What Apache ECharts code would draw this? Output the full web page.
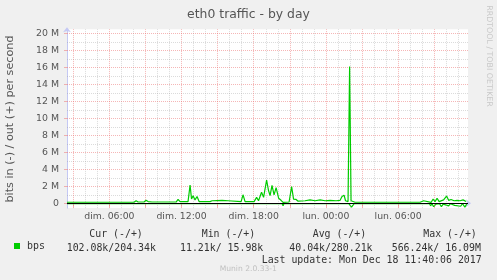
<!DOCTYPE html>
<html><head><meta charset="utf-8">
<script src="https://cdn.jsdelivr.net/npm/echarts@6/dist/echarts.min.js"></script>
<style>html,body{margin:0;padding:0;background:#f0f0f0}#c{width:497px;height:280px}</style>
</head><body><div id="c"></div>
<script>
// time axis: hours since Sunday (dim.) 00:00 ; values in Mbit/s
const outHours = [2.48, 5.23, 8.05, 8.22, 8.39, 8.88, 9.05, 9.22, 9.38, 9.55, 9.97, 10.13, 10.30, 11.55, 11.71, 11.88, 12.54, 12.71, 12.83, 12.96, 13.12, 13.29, 13.46, 14.37, 14.54, 15.37, 15.87, 16.03, 16.95, 17.11, 17.28, 18.03, 18.24, 18.40, 18.65, 18.82, 19.07, 19.23, 19.36, 19.52, 19.69, 19.86, 20.07, 20.27, 20.44, 20.94, 21.15, 21.31, 21.52, 21.69, 21.85, 22.27, 22.68, 23.10, 23.52, 23.93, 24.35, 24.85, 25.18, 25.34, 25.51, 25.63, 25.84, 25.97, 26.09, 26.22, 26.42, 31.83, 31.91, 32.12, 32.24, 32.74, 32.91, 33.07, 33.24, 33.41, 33.57, 33.78, 34.03, 34.20, 34.40, 34.65, 34.90, 35.15, 35.40, 35.65];
const outMbps = [0.12, 0.12, 0.12, 0.3, 0.15, 0.15, 0.35, 0.2, 0.35, 0.15, 0.15, 0.35, 0.15, 0.15, 0.45, 0.2, 0.2, 2.15, 0.5, 0.9, 0.4, 0.8, 0.2, 0.2, 0.3, 0.35, 0.3, 0.15, 0.2, 1.0, 0.2, 0.2, 0.7, 0.3, 1.3, 0.7, 2.74, 1.5, 0.9, 2.1, 1.0, 1.85, 0.6, 0.35, 0.1, 0.15, 1.95, 0.5, 0.45, 0.25, 0.45, 0.3, 0.4, 0.3, 0.4, 0.3, 0.35, 0.3, 0.35, 0.8, 0.95, 0.3, 0.2, 16.09, 0.3, 0.1, 0.12, 0.12, 0.15, 0.3, 0.1, 0.1, 0.5, 0.2, 0.6, 0.2, 0.35, 0.4, 0.85, 0.35, 0.45, 0.3, 0.35, 0.3, 0.4, 0.2];
const inHours = [2.48, 11.0, 11.08, 11.16, 12.45, 12.54, 12.62, 13.3, 13.38, 13.46, 14.05, 14.13, 14.21, 16.4, 16.48, 16.56, 17.2, 17.28, 17.36, 18.7, 18.78, 18.86, 19.85, 19.93, 20.01, 20.35, 20.44, 20.52, 21.3, 21.4, 21.5, 22.9, 23.0, 23.1, 25.7, 25.8, 25.9, 26.05, 26.13, 26.25, 26.35, 28.0, 28.1, 28.2, 32.6, 32.7, 32.82, 32.95, 33.03, 33.15, 33.3, 33.45, 33.6, 33.75, 34.2, 34.35, 34.7, 34.85, 35.2, 35.35, 35.55, 35.7];
const inMbps = [-0.03, -0.03, -0.15, -0.03, -0.03, -0.18, -0.03, -0.03, -0.2, -0.03, -0.03, -0.2, -0.03, -0.03, -0.15, -0.03, -0.03, -0.2, -0.03, -0.03, -0.25, -0.03, -0.03, -0.15, -0.03, -0.03, -0.3, -0.03, -0.03, -0.2, -0.03, -0.03, -0.12, -0.03, -0.03, -0.2, -0.03, -0.03, -0.45, -0.3, -0.03, -0.03, -0.1, -0.03, -0.03, -0.3, -0.05, -0.4, -0.566, -0.1, -0.3, -0.05, -0.4, -0.1, -0.3, -0.05, -0.25, -0.05, -0.35, -0.05, -0.45, -0.1];
const xLabelHours = [6, 12, 18, 24, 30];
const xLabels = ['dim. 06:00', 'dim. 12:00', 'dim. 18:00', 'lun. 00:00', 'lun. 06:00'];
const xMajorHours = [3, 6, 9, 12, 15, 18, 21, 24, 27, 30, 33];
const xMinorHours = [4, 5, 7, 8, 10, 11, 13, 14, 16, 17, 19, 20, 22, 23, 25, 26, 28, 29, 31, 32, 34, 35];
const yLabelValues = [0, 2, 4, 6, 8, 10, 12, 14, 16, 18, 20];
const yLabels = ['0', '2 M', '4 M', '6 M', '8 M', '10 M', '12 M', '14 M', '16 M', '18 M', '20 M'];
const yMajorValues = [2, 4, 6, 8, 10, 12, 14, 16, 18, 20];
const yMinorValues = [1, 3, 5, 7, 9, 11, 13, 15, 17, 19];
const legendHeaders = ['Cur (-/+)', 'Min (-/+)', 'Avg (-/+)', 'Max (-/+)'];
const legendValues = ['102.08k/204.34k', '11.21k/ 15.98k', '40.04k/280.21k', '566.24k/ 16.09M'];
const lastUpdate = 'Last update: Mon Dec 18 11:40:06 2017';

const SANS = 'DejaVu Sans';
const MONO = 'DejaVu Sans Mono';
const GREEN = '#00cc00';
const RED = 'rgba(235,110,110,0.5)';
const GREY = 'rgba(160,160,160,0.38)';
const AXIS = '#c4c8f4';

const chart = echarts.init(document.getElementById('c'), null, {renderer: 'canvas'});
const headerX = [89.3, 201.7, 312.7, 423.3];
const valueX = [66.7, 180, 289.3, 391.7];
const mid = {align: 'left', verticalAlign: 'middle', textAlign: 'left', textVerticalAlign: 'middle'};
const graphics = [
  {type: 'text', x: 248.5, y: 14.3, style: {text: 'eth0 traffic - by day', fontFamily: SANS, fontSize: 12.4, fill: '#555', align: 'center', verticalAlign: 'middle', textAlign: 'center', textVerticalAlign: 'middle'}},
  {type: 'text', x: 10.5, y: 119, rotation: Math.PI / 2, style: {text: 'bits in (-) / out (+) per second', fontFamily: SANS, fontSize: 11.2, fill: '#555', align: 'center', verticalAlign: 'middle', textAlign: 'center', textVerticalAlign: 'middle'}},
  {type: 'text', x: 489, y: 56, rotation: -Math.PI / 2, style: {text: 'RRDTOOL / TOBI OETIKER', fontFamily: SANS, fontSize: 7.9, fill: '#c8c8c8', align: 'center', verticalAlign: 'middle', textAlign: 'center', textVerticalAlign: 'middle'}},
  {type: 'text', x: 248.3, y: 269.5, style: {text: 'Munin 2.0.33-1', fontFamily: SANS, fontSize: 7.6, fill: '#c0c0c0', align: 'center', verticalAlign: 'middle', textAlign: 'center', textVerticalAlign: 'middle'}},
  {type: 'text', x: 261.7, y: 260, style: Object.assign({text: lastUpdate, fontFamily: MONO, fontSize: 9.9, fill: '#333'}, mid)}
];
legendHeaders.forEach((t, i) => graphics.push({type: 'text', x: headerX[i], y: 234.8, style: Object.assign({text: t, fontFamily: MONO, fontSize: 9.9, fill: '#333'}, mid)}));
legendValues.forEach((t, i) => graphics.push({type: 'text', x: valueX[i], y: 248.2, style: Object.assign({text: t, fontFamily: MONO, fontSize: 9.9, fill: '#333'}, mid)}));

const gridLine = (color) => ({color: color, width: 1, type: [1, 1]});
const option = {
  animation: false,
  backgroundColor: '#f0f0f0',
  grid: {left: 67, top: 29.3, width: 401, height: 178.8, show: true, backgroundColor: '#fff', borderWidth: 0},
  legend: {data: ['bps'], left: 14, top: 241, padding: 0, itemWidth: 6, itemHeight: 6, icon: 'rect',
    textStyle: {fontFamily: MONO, fontSize: 9.9, color: '#333', padding: [0, 0, 0, 2]}},
  xAxis: {type: 'value', min: 2.48, max: 35.81,
    axisLine: {show: true, lineStyle: {color: AXIS, width: 1}, symbol: ['none', 'arrow'], symbolSize: [6, 5], symbolOffset: [0, 3]},
    axisTick: {show: true, customValues: xMajorHours, length: 4, lineStyle: {color: RED}},
    axisLabel: {customValues: xLabelHours, formatter: v => xLabels[xLabelHours.indexOf(v)] || '', fontFamily: SANS, fontSize: 9.3, color: '#555', margin: 4},
    splitLine: {show: false}},
  yAxis: {type: 'value', min: -0.566, max: 20.47,
    axisLine: {show: true, lineStyle: {color: AXIS, width: 1}, symbol: ['none', 'arrow'], symbolSize: [6, 5], symbolOffset: [0, 2]},
    axisTick: {show: true, customValues: yLabelValues, length: 3, lineStyle: {color: RED}},
    axisLabel: {customValues: yLabelValues, formatter: v => yLabels[yLabelValues.indexOf(v)] || '', fontFamily: SANS, fontSize: 9.4, color: '#555', margin: 8},
    splitLine: {show: false}},
  graphic: graphics,
  series: [
    {type: 'line', name: 'grid', data: [], z: 1, silent: true,
      markLine: {silent: true, symbol: ['none', 'none'], label: {show: false}, animation: false,
        data: [].concat(
          yMinorValues.map(v => ({yAxis: v, lineStyle: gridLine(GREY)})),
          xMinorHours.map(v => ({xAxis: v, lineStyle: gridLine(GREY)})),
          yMajorValues.map(v => ({yAxis: v, lineStyle: gridLine(RED)})),
          xMajorHours.map(v => ({xAxis: v, lineStyle: gridLine(RED)}))
        )}},
    {type: 'line', name: 'bps_in', data: inHours.map((h, i) => [h, inMbps[i]]), showSymbol: false, z: 3,
      lineStyle: {color: GREEN, width: 1.2}, itemStyle: {color: GREEN}},
    {type: 'line', name: 'zero', data: [], z: 4, silent: true,
      markLine: {silent: true, symbol: ['none', 'none'], label: {show: false}, animation: false,
        data: [{yAxis: 0, lineStyle: {color: '#000', width: 1, type: 'solid'}}]}},
    {type: 'line', name: 'bps', data: outHours.map((h, i) => [h, outMbps[i]]), showSymbol: false, z: 5,
      lineStyle: {color: GREEN, width: 1.2}, itemStyle: {color: GREEN}}
  ]
};
chart.setOption(option);
</script></body></html>
